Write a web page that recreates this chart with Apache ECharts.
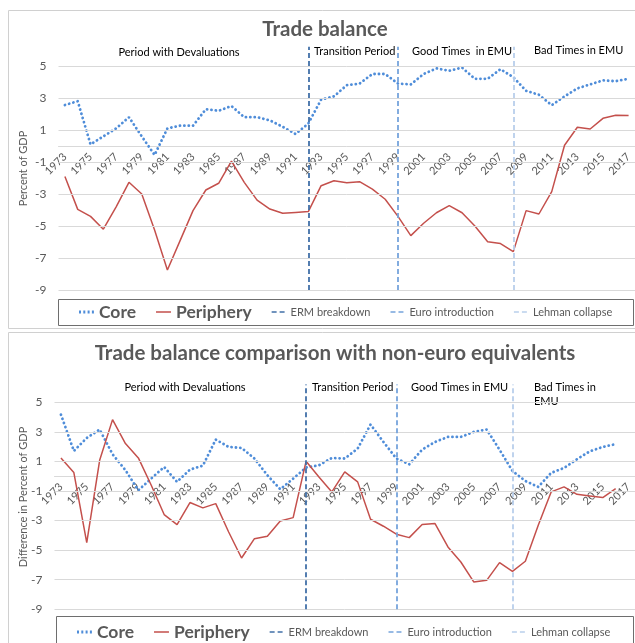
<!DOCTYPE html>
<html lang="en">
<head>
<meta charset="UTF-8" />
<title>Trade balance</title>
<script src="https://cdn.jsdelivr.net/npm/echarts@6/dist/echarts.min.js"></script>
<style>
  html, body { margin: 0; padding: 0; background: #fff; }
  #chart { width: 635px; height: 643px; }
</style>
</head>
<body>
<div id="chart"></div>
<script>
// categories
var years = ['1973','1974','1975','1976','1977','1978','1979','1980','1981','1982',
  '1983','1984','1985','1986','1987','1988','1989','1990','1991','1992',
  '1993','1994','1995','1996','1997','1998','1999','2000','2001','2002',
  '2003','2004','2005','2006','2007','2008','2009','2010','2011','2012',
  '2013','2014','2015','2016','2017'];

// trade balance, % of GDP
var coreTop = [2.56, 2.8, 0.1, 0.6, 1.1, 1.8, 0.6, -0.56, 1.1, 1.27,
  1.27, 2.3, 2.2, 2.5, 1.8, 1.8, 1.6, 1.2, 0.75, 1.4,
  2.9, 3.1, 3.8, 3.9, 4.5, 4.5, 3.9, 3.85, 4.5, 4.85,
  4.7, 4.9, 4.2, 4.2, 4.8, 4.3, 3.45, 3.2, 2.55, 3.1,
  3.6, 3.85, 4.1, 4.05, 4.2];
var periTop = [-1.9, -3.96, -4.4, -5.2, -3.8, -2.27, -3.0, -5.25, -7.75, -5.9,
  -4.04, -2.75, -2.33, -0.94, -2.27, -3.38, -3.94, -4.2, -4.15, -4.1,
  -2.48, -2.17, -2.29, -2.23, -2.7, -3.33, -4.4, -5.6, -4.83, -4.17,
  -3.73, -4.17, -5.0, -5.98, -6.1, -6.6, -4.04, -4.25, -2.85, 0.05,
  1.17, 1.06, 1.73, 1.92, 1.9];

// difference vs non-euro equivalents (ends 2016)
var coreDiff = [4.17, 1.71, 2.59, 3.16, 1.49, 0.41, -0.95, -0.15, 0.63, -0.38,
  0.45, 0.72, 2.48, 1.98, 1.92, 1.2, 0.07, -0.88, -0.16, 0.59,
  0.74, 1.24, 1.2, 1.87, 3.5, 2.32, 1.2, 0.81, 1.8, 2.32,
  2.66, 2.66, 3.0, 3.16, 1.8, 0.36, -0.32, -0.72, 0.23, 0.56,
  1.15, 1.69, 1.98, 2.17];
var periDiff = [1.24, 0.25, -4.49, 1.08, 3.83, 2.21, 1.24, -0.61, -2.59, -3.27,
  -1.78, -2.14, -1.85, -3.77, -5.53, -4.22, -4.06, -3.02, -2.8, 1.01,
  -0.05, -1.06, 0.29, -0.38, -2.91, -3.38, -3.92, -4.15, -3.27, -3.2,
  -4.78, -5.8, -7.15, -7.04, -5.84, -6.43, -5.75, -3.32, -1.06, -0.72,
  -1.22, -1.33, -1.44, -0.83];

// y tick values (odd numbers) and event years
var tickValues = [5, 3, 1, -1, -3, -5, -7, -9];
var events = [
  { name: 'ERM breakdown', year: '1992', color: '#4270a8' },
  { name: 'Euro introduction', year: '1999', color: '#76a4dc' },
  { name: 'Lehman collapse', year: '2008', color: '#b9cfec' }
];

var grey = '#595959';
var gridGrey = '#d9d9d9';
var coreColor = '#4f8dd9';
var periColor = '#c4504c';

var dotIcon = 'path://M0,0h2v3h-2zM4.3,0h2v3h-2zM8.6,0h2v3h-2zM12.9,0h2v3h-2z';
var solidIcon = 'path://M0,0h0.01v0.01h-0.01zM0,0.8h15v1.5h-15zM0,3h0.01v0.01h-0.01z';
var dashIcon = 'path://M0,0h0.01v0.01h-0.01zM0,0.8h5v1.5h-5zM8,0.8h5v1.5h-5zM0,3h0.01v0.01h-0.01z';

function makeLegend(left, top) {
  var items = [
    { name: 'Core', icon: dotIcon, itemStyle: { color: coreColor },
      textStyle: { fontSize: 17.5, fontWeight: 'bold', color: grey } },
    { name: 'Periphery', icon: solidIcon, itemStyle: { color: periColor },
      textStyle: { fontSize: 17.5, fontWeight: 'bold', color: grey } }
  ];
  events.forEach(function (e) {
    items.push({ name: e.name, icon: dashIcon, itemStyle: { color: e.color },
      textStyle: { fontSize: 11, color: grey } });
  });
  return {
    left: left, top: top, padding: 0, itemGap: 20,
    itemWidth: 15, itemHeight: 3, selectedMode: false, data: items
  };
}

// the x axis sits on the zero line; offset is minus the distance from grid bottom to 0
function xAxisFor(gi, offset) {
  return {
    type: 'category', gridIndex: gi, data: years, offset: offset,
    axisLine: { onZero: false, lineStyle: { color: gridGrey } },
    axisTick: { show: false },
    axisLabel: { interval: 1, rotate: 45, margin: 9, fontSize: 11, color: grey },
    splitLine: { show: false }
  };
}

function yAxisFor(gi, name, gap) {
  return {
    type: 'value', gridIndex: gi, min: -9, max: 6.2, interval: 1,
    name: name, nameLocation: 'middle', nameGap: gap, nameMoveOverlap: false,
    nameTextStyle: { fontSize: 11, color: grey },
    axisLine: { show: false }, axisTick: { show: false },
    splitLine: { show: false },
    axisLabel: {
      fontSize: 12, color: grey, margin: 12, showMaxLabel: false,
      formatter: function (v) { return Math.abs(v) % 2 === 1 ? String(v) : ''; }
    }
  };
}

function seriesFor(gi, core, peri) {
  var list = [
    {
      type: 'line', name: 'grid', xAxisIndex: gi, yAxisIndex: gi, data: [], z: 1,
      markLine: {
        silent: true, symbol: 'none', label: { show: false },
        lineStyle: { color: gridGrey, type: 'solid', width: 1 },
        data: tickValues.map(function (v) { return { yAxis: v }; })
      }
    },
    {
      type: 'line', name: 'Core', xAxisIndex: gi, yAxisIndex: gi, data: core, z: 4,
      symbol: 'none',
      lineStyle: { color: coreColor, width: 2.8, type: [0.1, 4.3], cap: 'round' }
    },
    {
      type: 'line', name: 'Periphery', xAxisIndex: gi, yAxisIndex: gi, data: peri, z: 4,
      symbol: 'none',
      lineStyle: { color: periColor, width: 1.5 }
    }
  ];
  events.forEach(function (e) {
    list.push({
      type: 'line', name: e.name, xAxisIndex: gi, yAxisIndex: gi, data: [], z: 3,
      markLine: {
        silent: true, symbol: 'none', label: { show: false },
        lineStyle: { color: e.color, type: [5, 3], width: 1.8 },
        data: [{ xAxis: e.year }]
      }
    });
  });
  return list;
}

function txt(s, x, y, size, align, bold) {
  return {
    type: 'text', silent: true,
    style: {
      text: s, x: x, y: y, fill: bold ? grey : '#000',
      font: (bold ? 'bold ' : '') + size + 'px Lato',
      textAlign: align, textVerticalAlign: 'middle'
    }
  };
}

var chart = echarts.init(document.getElementById('chart'));

var option = {
  animation: false,
  textStyle: { fontFamily: 'Lato' },
  grid: [
    { left: 58.5, right: -3, top: 46.8, bottom: 353 },
    { left: 54.5, right: -3.5, top: 384.6, bottom: 33.7 }
  ],
  xAxis: [xAxisFor(0, -144), xAxisFor(1, -133.3)],
  yAxis: [yAxisFor(0, 'Percent of GDP', 30), yAxisFor(1, 'Difference in Percent of GDP', 26)],
  legend: [makeLegend(79, 303), makeLegend(77, 623)],
  series: seriesFor(0, coreTop, periTop).concat(seriesFor(1, coreDiff, periDiff)),
  graphic: [
    { type: 'rect', silent: true, shape: { x: 8.5, y: 10.5, width: 640, height: 318 },
      style: { fill: 'none', stroke: '#d0d0d0', lineWidth: 1 } },
    { type: 'rect', silent: true, shape: { x: 8.5, y: 332.5, width: 640, height: 320 },
      style: { fill: 'none', stroke: '#d0d0d0', lineWidth: 1 } },
    { type: 'rect', silent: true, shape: { x: 58.5, y: 299.5, width: 575, height: 26 },
      style: { fill: 'none', stroke: '#6e6e6e', lineWidth: 1 } },
    { type: 'rect', silent: true, shape: { x: 56.5, y: 616.5, width: 577, height: 40 },
      style: { fill: 'none', stroke: '#6e6e6e', lineWidth: 1 } },
    txt('Trade balance', 325, 29, 20.5, 'center', true),
    txt('Trade balance comparison with non-euro equivalents', 335, 353, 20.5, 'center', true),
    txt('Period with Devaluations', 179, 52, 11, 'center'),
    txt('Transition Period', 314, 51, 11, 'left'),
    txt('Good Times  in EMU', 412, 51, 11, 'left'),
    txt('Bad Times in EMU', 534, 50, 11, 'left'),
    txt('Period with Devaluations', 185, 387, 11, 'center'),
    txt('Transition Period', 312, 387, 11, 'left'),
    txt('Good Times in EMU', 411, 387, 11, 'left'),
    txt('Bad Times in', 534, 387, 11, 'left'),
    txt('EMU', 534, 401, 11, 'left')
  ]
};

chart.setOption(option);
</script>
</body>
</html>
